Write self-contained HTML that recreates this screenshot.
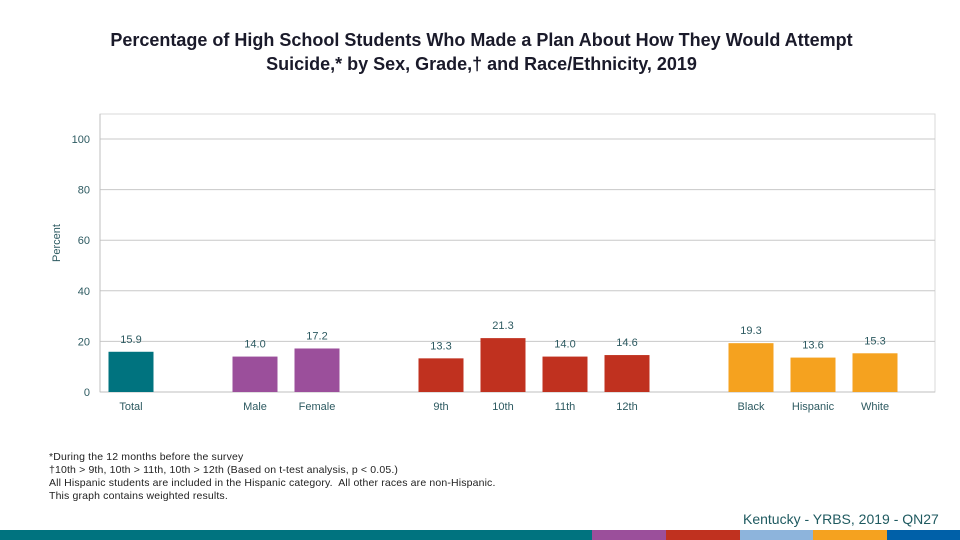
<!DOCTYPE html>
<html><head><meta charset="utf-8"><style>
body{margin:0;width:960px;height:540px;overflow:hidden;background:#fff;font-family:"Liberation Sans",sans-serif;position:relative}
.t{position:absolute;left:0;width:963px;text-align:center;top:28px;font-size:18px;font-weight:bold;color:#1a1a2a;line-height:24px}
.fn{position:absolute;left:49px;top:451px;font-size:10.5px;color:#222;line-height:13px;letter-spacing:0.15px}
.src{position:absolute;left:743px;top:511px;font-size:14px;color:#1f5a60}
</style></head><body>
<div class="t">Percentage of High School Students Who Made a Plan About How They Would Attempt<br>Suicide,* by Sex, Grade,† and Race/Ethnicity, 2019</div>
<svg id="c" width="960" height="540" style="position:absolute;left:0;top:0"></svg>
<div class="fn">*During the 12 months before the survey<br>†10th &gt; 9th, 10th &gt; 11th, 10th &gt; 12th (Based on t-test analysis, p &lt; 0.05.)<br>All Hispanic students are included in the Hispanic category.&nbsp; All other races are non-Hispanic.<br>This graph contains weighted results.</div>
<div class="src">Kentucky - YRBS, 2019 - QN27</div>
<script>
const categories=["Total","","Male","Female","","9th","10th","11th","12th","","Black","Hispanic","White"];
const values=[15.9,null,14.0,17.2,null,13.3,21.3,14.0,14.6,null,19.3,13.6,15.3];
const groups=["total",null,"sex","sex",null,"grade","grade","grade","grade",null,"race","race","race"];
const yTicks=[0,20,40,60,80,100];
const colors={total:"#00737f",sex:"#9b4f9b",grade:"#c0311f",race:"#f5a21f"};
const NS="http://www.w3.org/2000/svg",svg=document.getElementById('c');
const x0=100,x1=935,y0=392,yTop=139;
const y=v=>y0-(y0-yTop)*v/100;
const xc=i=>x0+31+62*i;
function mk(t,a,txt){const e=document.createElementNS(NS,t);for(const k in a)e.setAttribute(k,a[k]);if(txt!=null)e.textContent=txt;svg.appendChild(e);return e;}
let f=mk('rect',{x:x0,y:114,width:x1-x0,height:y0-114,fill:'none',stroke:'#d9d9d9'});


yTicks.forEach(v=>{
 let g=mk('line',{x1:x0,x2:x1,y1:y(v),y2:y(v),stroke:v===0?'#bfbfbf':'#c8c8c8'});
 
 
 let t=mk('text',{x:90,y:y(v)+4,'text-anchor':'end','font-size':11,fill:'#2d5a61'},v);
 
 
});
let ax=mk('line',{x1:x0,x2:x0,y1:114,y2:y0,stroke:'#bfbfbf'});


let yt=mk('text',{transform:'translate(60,243) rotate(-90)','text-anchor':'middle','font-size':11,fill:'#2d5a61'},'Percent');


values.forEach((v,i)=>{
 if(v==null)return;
 let b=mk('rect',{x:xc(i)-22.5,y:y(v),width:45,height:y0-y(v),fill:colors[groups[i]]});
 
 
 let l=mk('text',{x:xc(i),y:y(v)-9,'text-anchor':'middle','font-size':11,fill:'#2d5a61'},v.toFixed(1));
 
 
 let c=mk('text',{x:xc(i),y:410,'text-anchor':'middle','font-size':11,fill:'#2d5a61'},categories[i]);
 
 
});
[[0,592,'#00737f'],[592,666,'#9b4f9b'],[666,740,'#c0311f'],[740,813,'#8db4dc'],[813,887,'#f5a21f'],[887,960,'#0060a8']].forEach(s=>{
 let r=mk('rect',{x:s[0],y:530,width:s[1]-s[0],height:10,fill:s[2]});
 
 
});
</script>
</body></html>
